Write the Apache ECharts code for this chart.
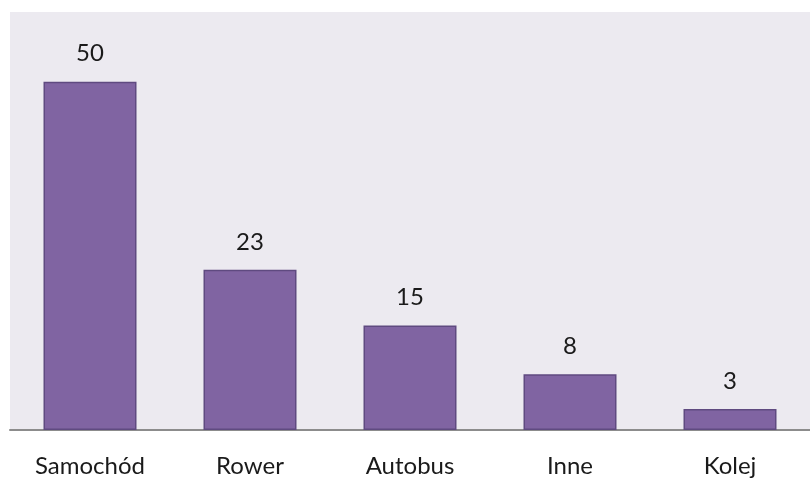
<!DOCTYPE html>
<html><head><meta charset="utf-8">
<script src="https://cdn.jsdelivr.net/npm/echarts@6/dist/echarts.min.js"></script>
<style>html,body{margin:0;padding:0;background:#fff}#c{width:810px;height:479px}</style>
</head><body><div id="c"></div>
<script>
const categories = ['Samochód', 'Rower', 'Autobus', 'Inne', 'Kolej'];
const values = [50, 23, 15, 8, 3];

const chart = echarts.init(document.getElementById('c'), null, {renderer: 'canvas'});
chart.setOption({
  animation: false,
  backgroundColor: '#ffffff',
  grid: {left: 10, right: -6.5, top: 12, bottom: 49, show: true, backgroundColor: '#ECEAF0', borderWidth: 0},
  xAxis: {
    type: 'category', data: categories,
    axisLine: {show: true, lineStyle: {color: '#8c8c8c', width: 2}},
    axisTick: {show: false},
    axisLabel: {margin: 24, fontFamily: 'Lato', fontSize: 24, color: '#1a1a1a'}
  },
  yAxis: {type: 'value', min: 0, max: 60, show: false, splitLine: {show: false}},
  series: [{
    type: 'bar', data: values, barWidth: 93,
    itemStyle: {color: '#8064A2', borderColor: '#5F4A80', borderWidth: 1.5},
    label: {show: true, position: 'top', distance: 16, fontFamily: 'Lato', fontSize: 24, color: '#1a1a1a'}
  }]
});
</script></body></html>
